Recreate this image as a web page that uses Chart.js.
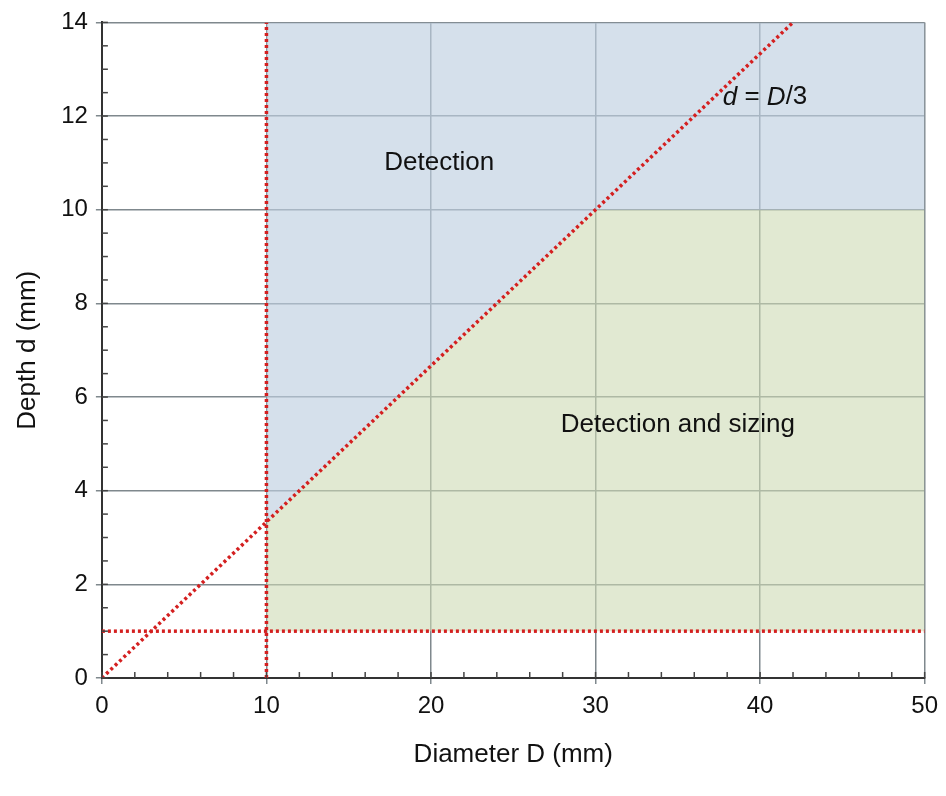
<!DOCTYPE html>
<html><head><meta charset="utf-8">
<script src="https://cdn.jsdelivr.net/npm/chart.js@4"></script>
<style>html,body{margin:0;padding:0;background:#fff}#wrap{width:946px;height:796px}</style>
</head><body><div id="wrap"><canvas id="c"></canvas></div>
<script>
// region boundaries (diameter D, depth d in mm)
const regionX = [10, 30, 50];
const sizingBottom = [1, 1, 1];
const sizingTop = [10 / 3, 10, 10];
const detectionTop = [14, 14, 14];
const ruleLineX = [0, 42];
const ruleLineY = [0, 14];
const minDiameter = 10;
const minDepth = 1;
const labels = [
  {text: 'Detection', x: 20.5, y: 11},
  {text: 'Detection and sizing', x: 35, y: 5.4},
];

const pts = (xs, ys) => xs.map((x, i) => ({x, y: ys[i]}));
const dotted = {borderColor: '#d42020', borderWidth: 3.5, borderDash: [3, 3], pointRadius: 0, showLine: true, fill: false, order: 0};
const FONT = '"Liberation Sans", Arial, sans-serif';

const extras = {
  id: 'extras',
  afterDatasetsDraw(chart) {
    const {ctx, scales: {x, y}, chartArea: a} = chart;
    ctx.save();
    ctx.strokeStyle = '#444'; ctx.lineWidth = 1.5;
    for (let v = 0; v <= 50; v += 2) {
      const px = x.getPixelForValue(v);
      ctx.beginPath(); ctx.moveTo(px, a.bottom); ctx.lineTo(px, a.bottom - 6); ctx.stroke();
    }
    for (let v = 0; v <= 14; v += 0.5) {
      const py = y.getPixelForValue(v);
      ctx.beginPath(); ctx.moveTo(a.left, py); ctx.lineTo(a.left + 6, py); ctx.stroke();
    }
    ctx.fillStyle = '#111'; ctx.font = '26px ' + FONT;
    ctx.textAlign = 'center'; ctx.textBaseline = 'middle';
    labels.forEach(l => ctx.fillText(l.text, x.getPixelForValue(l.x), y.getPixelForValue(l.y)));
    // d = D/3 with italic letters
    let px = x.getPixelForValue(40.3), py = y.getPixelForValue(12.4);
    ctx.textAlign = 'left';
    const parts = [['d', true], [' = ', false], ['D', true], ['/3', false]];
    let w = 0;
    parts.forEach(([t, it]) => { ctx.font = (it ? 'italic ' : '') + '26px ' + FONT; w += ctx.measureText(t).width; });
    px -= w / 2;
    parts.forEach(([t, it]) => { ctx.font = (it ? 'italic ' : '') + '26px ' + FONT; ctx.fillText(t, px, py); px += ctx.measureText(t).width; });
    ctx.restore();
  }
};

new Chart(document.getElementById('c'), {
  type: 'scatter',
  data: {datasets: [
    {data: pts(regionX, sizingBottom), borderWidth: 0, pointRadius: 0, showLine: true, fill: false, order: 1},
    {data: pts(regionX, sizingTop), borderWidth: 0, pointRadius: 0, showLine: true, fill: '-1', backgroundColor: 'rgba(205,218,180,0.6)', order: 1},
    {data: pts(regionX, detectionTop), borderWidth: 0, pointRadius: 0, showLine: true, fill: '-1', backgroundColor: 'rgba(190,208,225,0.65)', order: 1},
    {...dotted, data: pts(ruleLineX, ruleLineY)},
    {...dotted, data: pts([minDiameter, minDiameter], [0, 14])},
    {...dotted, data: pts([0, 50], [minDepth, minDepth])},
  ]},
  options: {
    responsive: true, maintainAspectRatio: false, animation: false,
    layout: {padding: {top: 6, right: 12, left: 8, bottom: 22}},
    plugins: {legend: {display: false}, tooltip: {enabled: false}},
    scales: {
      x: {min: 0, max: 50, border: {color: '#333', width: 2},
        ticks: {stepSize: 10, color: '#111', padding: 8, font: {size: 24, family: 'Liberation Sans'}},
        grid: {color: '#7f888d', lineWidth: 1.5, tickLength: 6},
        title: {display: true, text: 'Diameter D (mm)', color: '#111', padding: {top: 10}, font: {size: 26, family: 'Liberation Sans'}}},
      y: {min: 0, max: 14, border: {color: '#333', width: 2},
        ticks: {stepSize: 2, color: '#111', padding: 8, font: {size: 24, family: 'Liberation Sans'}},
        grid: {color: '#7f888d', lineWidth: 1.5, tickLength: 6},
        title: {display: true, text: 'Depth d (mm)', color: '#111', padding: {bottom: 10}, font: {size: 26, family: 'Liberation Sans'}}}
    }
  },
  plugins: [extras]
});
</script></body></html>
